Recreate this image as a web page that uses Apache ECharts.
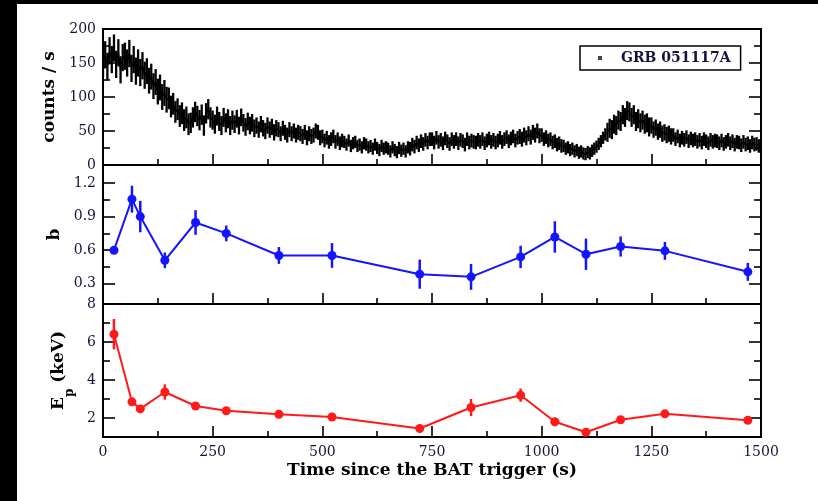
<!DOCTYPE html>
<html>
<head>
<meta charset="utf-8">
<script src="https://cdn.jsdelivr.net/npm/echarts@6/dist/echarts.min.js"></script>
<style>
  html, body { margin: 0; padding: 0; background: #fff; }
  #chart { width: 818px; height: 501px; }
</style>
</head>
<body>
<div id="chart"></div>
<script>
// BAT light curve, 5 s bins starting at the trigger (counts / s)
const binWidth = 5;
const rateValues = [
  150,162,145,168,155,172,148,165,140,158,
  160,150,164,142,155,138,150,136,146,132,
  138,124,130,116,122,108,114,100,106,96,
  98,86,90,78,82,72,76,66,70,60,
  62,70,78,72,66,74,58,76,82,70,
  66,60,72,64,58,70,62,68,58,66,
  60,68,58,70,62,56,64,58,62,54,
  58,52,60,54,50,58,52,56,48,54,
  52,46,54,48,44,52,46,50,44,48,
  46,42,48,40,46,42,44,50,48,40,
  42,36,40,34,38,42,34,38,32,36,
  34,30,36,28,32,34,28,30,26,32,
  30,26,28,24,30,25,22,28,24,26,
  24,20,26,22,19,25,21,24,20,26,
  24,30,27,33,29,35,31,37,33,38,
  38,33,40,34,37,32,39,35,31,38,
  34,38,32,37,35,30,38,33,36,34,
  33,37,34,38,32,36,39,34,37,33,
  36,40,34,38,41,35,39,42,36,40,
  42,38,44,40,46,41,48,44,50,43,
  44,38,41,36,38,33,35,30,32,28,
  28,24,26,22,24,20,22,18,20,17,
  16,19,17,21,24,27,31,35,40,45,
  48,54,52,60,58,66,64,74,70,80,
  78,70,74,64,68,62,66,60,62,56,
  58,52,55,49,52,46,48,44,46,42,
  44,38,42,36,40,37,41,35,39,36,
  38,34,37,33,38,35,32,37,34,36,
  35,32,36,31,34,37,32,35,30,34,
  33,29,34,30,32,28,33,30,31,28
];
// 1-sigma rate uncertainty for each 50 s stretch of the light curve
const rateErrorsPer50s = [20,20,19,16,15,14,13,12,11,11,10,9,9,9,10,10,10,10,10,11,10,9,9,14,14,12,10,10,10,10];

// Time-resolved spectral fits (mid-time of each interval, s)
const fitTimes = [25, 66, 85, 141, 211, 281, 401, 522, 722, 839, 952, 1030, 1101, 1180, 1281, 1470];
const bValues  = [0.60, 1.055, 0.90, 0.51, 0.847, 0.75, 0.553, 0.553, 0.386, 0.362, 0.54, 0.718, 0.564, 0.633, 0.594, 0.407];
const bErrors  = [0.03, 0.12, 0.14, 0.07, 0.11, 0.07, 0.075, 0.11, 0.13, 0.115, 0.10, 0.14, 0.14, 0.09, 0.08, 0.08];
const epValues = [6.41, 2.85, 2.48, 3.37, 2.63, 2.38, 2.2, 2.05, 1.45, 2.55, 3.2, 1.8, 1.25, 1.91, 2.22, 1.88];
const epErrors = [0.8, 0.15, 0.1, 0.4, 0.15, 0.12, 0.1, 0.1, 0.12, 0.45, 0.35, 0.15, 0.1, 0.12, 0.1, 0.12];

// Axis tick labels
const xTicks = [0, 250, 500, 750, 1000, 1250, 1500];
const bLabels = [0.3, 0.6, 0.9, 1.2];
const bMinor = [0.45, 0.75, 1.05];
const epLabels = [2, 4, 6, 8];
const epMinor = [3, 5, 7];

const lightCurve = rateValues.map((v, i) => [i * binWidth, v, rateErrorsPer50s[Math.floor(i * binWidth / 50)]]);
const bData = fitTimes.map((t, i) => [t, bValues[i], bErrors[i]]);
const epData = fitTimes.map((t, i) => [t, epValues[i], epErrors[i]]);

const SERIF = 'DejaVu Serif';
const INK = '#14143a';
const BLUE = '#1414ff';
const RED = '#ff1a1a';

const panels = [
  { top: 29, height: 136 },
  { top: 165, height: 139 },
  { top: 304, height: 133 }
];

const grids = panels.map(p => ({
  left: 103, width: 658, top: p.top, height: p.height,
  show: true, borderColor: '#000', borderWidth: 2, backgroundColor: 'transparent'
}));

const xAxes = panels.map((p, i) => ({
  type: 'value', gridIndex: i, min: 0, max: 1500, interval: 250,
  axisLine: { show: false },
  axisTick: { show: true, inside: true, length: 11, lineStyle: { color: '#000', width: 1.6 } },
  minorTick: { show: true, splitNumber: 2, length: 6, lineStyle: { color: '#000', width: 1.6 } },
  splitLine: { show: false },
  axisLabel: {
    show: i === 2, fontFamily: SERIF, fontSize: 14, color: INK, margin: 8,
    formatter: v => (xTicks.indexOf(v) >= 0 ? String(v) : '')
  },
  name: i === 2 ? 'Time since the BAT trigger (s)' : '',
  nameLocation: 'middle', nameGap: 25,
  nameTextStyle: { fontFamily: SERIF, fontWeight: 'bold', fontSize: 17, color: '#000' }
}));

const tickStyle = { color: '#000', width: 1.6 };
const nameStyle = { fontFamily: SERIF, fontWeight: 'bold', fontSize: 17, color: '#000' };

function yAxis(grid, pos, min, max, opts) {
  return Object.assign({
    type: 'value', gridIndex: grid, position: pos, min: min, max: max,
    axisLine: { show: false },
    splitLine: { show: false },
    axisLabel: { show: false },
    nameLocation: 'middle'
  }, opts);
}

const yAxes = [];
// counts panel
['left', 'right'].forEach(pos => {
  yAxes.push(yAxis(0, pos, 0, 200, {
    interval: 50,
    axisTick: { show: true, inside: true, length: 12, lineStyle: tickStyle },
    minorTick: { show: true, splitNumber: 2, length: 7, lineStyle: tickStyle },
    axisLabel: { show: pos === 'left', fontFamily: SERIF, fontSize: 14, color: INK, margin: 7, showMinLabel: true, showMaxLabel: true },
    name: pos === 'left' ? 'counts / s' : '', nameGap: 34, nameTextStyle: nameStyle
  }));
});
// photon index panel
['left', 'right'].forEach(pos => {
  yAxes.push(yAxis(1, pos, 0.12, 1.36, {
    axisTick: { show: true, inside: true, length: 12, lineStyle: tickStyle, customValues: bLabels },
    axisLabel: { show: pos === 'left', customValues: bLabels, fontFamily: SERIF, fontSize: 14, color: INK, margin: 7, formatter: v => v.toFixed(1) },
    name: pos === 'left' ? 'b' : '', nameGap: 33, nameTextStyle: nameStyle
  }));
  yAxes.push(yAxis(1, pos, 0.12, 1.36, {
    axisTick: { show: true, inside: true, length: 7, lineStyle: tickStyle, customValues: bMinor }
  }));
});
// peak energy panel
['left', 'right'].forEach(pos => {
  yAxes.push(yAxis(2, pos, 1, 8, {
    axisTick: { show: true, inside: true, length: 12, lineStyle: tickStyle, customValues: epLabels },
    axisLabel: { show: pos === 'left', customValues: epLabels, fontFamily: SERIF, fontSize: 14, color: INK, margin: 7 },
    name: pos === 'left' ? '{e|E}{s|p}{e| (keV)}' : '', nameGap: 24,
    nameTextStyle: {
      rich: {
        e: { fontFamily: SERIF, fontWeight: 'bold', fontSize: 17, color: '#000', verticalAlign: 'top', lineHeight: 26 },
        s: { fontFamily: SERIF, fontWeight: 'bold', fontSize: 12, color: '#000', verticalAlign: 'bottom', lineHeight: 26 }
      }
    }
  }));
  yAxes.push(yAxis(2, pos, 1, 8, {
    axisTick: { show: true, inside: true, length: 7, lineStyle: tickStyle, customValues: epMinor }
  }));
});

function errorBars(color, width) {
  return function (params, api) {
    const x = api.value(0), y = api.value(1), e = api.value(2);
    const lo = api.coord([x, y - e]);
    const hi = api.coord([x, y + e]);
    return {
      type: 'line',
      shape: { x1: lo[0], y1: lo[1], x2: hi[0], y2: hi[1] },
      style: { stroke: color, lineWidth: width }
    };
  };
}

const option = {
  backgroundColor: '#fff',
  animation: false,
  grid: grids,
  xAxis: xAxes,
  yAxis: yAxes,
  legend: {
    data: [{ name: 'GRB 051117A', icon: 'rect', itemStyle: { color: '#444' } }],
    left: 580, top: 46,
    padding: [5, 10, 5, 18],
    itemWidth: 4, itemHeight: 4,
    borderColor: '#000', borderWidth: 1.5, borderRadius: 0,
    selectedMode: false,
    textStyle: { fontFamily: SERIF, fontWeight: 'bold', fontSize: 14, color: INK, padding: [0, 0, 0, 14] }
  },
  graphic: [
    { type: 'rect', shape: { x: 0, y: 0, width: 17, height: 501 }, style: { fill: '#000' }, silent: true },
    { type: 'rect', shape: { x: 0, y: 0, width: 818, height: 4 }, style: { fill: '#000' }, silent: true }
  ],
  series: [
    {
      name: 'GRB 051117A', type: 'line', xAxisIndex: 0, yAxisIndex: 0,
      data: lightCurve.map(d => [d[0], d[1]]), showSymbol: false, symbol: 'none',
      lineStyle: { color: '#000', width: 1.5 }, itemStyle: { color: '#000' }
    },
    {
      name: 'rate errors', type: 'custom', xAxisIndex: 0, yAxisIndex: 0,
      data: lightCurve, renderItem: errorBars('#000', 2.3), clip: true
    },
    {
      name: 'b errors', type: 'custom', xAxisIndex: 1, yAxisIndex: 2,
      data: bData, renderItem: errorBars(BLUE, 2.5), z: 2
    },
    {
      name: 'b', type: 'line', xAxisIndex: 1, yAxisIndex: 2,
      data: bData.map(d => [d[0], d[1]]),
      symbol: 'circle', symbolSize: 9,
      lineStyle: { color: BLUE, width: 2 }, itemStyle: { color: BLUE }, z: 3
    },
    {
      name: 'Ep errors', type: 'custom', xAxisIndex: 2, yAxisIndex: 6,
      data: epData, renderItem: errorBars(RED, 2.5), z: 2
    },
    {
      name: 'Ep', type: 'line', xAxisIndex: 2, yAxisIndex: 6,
      data: epData.map(d => [d[0], d[1]]),
      symbol: 'circle', symbolSize: 9,
      lineStyle: { color: RED, width: 2 }, itemStyle: { color: RED }, z: 3
    }
  ]
};

const chart = echarts.init(document.getElementById('chart'), null, { renderer: 'canvas' });
chart.setOption(option);
</script>
</body>
</html>
